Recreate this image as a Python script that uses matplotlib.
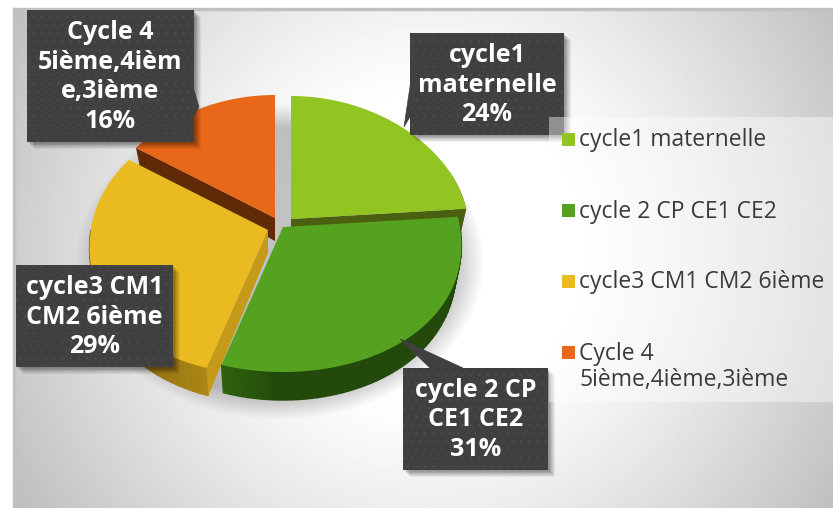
import numpy as np
import matplotlib
matplotlib.use("Agg")
from matplotlib import pyplot as plt
from matplotlib.patches import Rectangle, Polygon

# donnees du graphique
categories = ["cycle1 maternelle", "cycle 2 CP CE1 CE2", "cycle3 CM1 CM2 6ième", "Cycle 4\n5ième,4ième,3ième"]
values = [24, 31, 29, 16]
box_labels = ["cycle1\nmaternelle\n24%", "cycle 2 CP\nCE1 CE2\n31%", "cycle3 CM1\nCM2 6ième\n29%",
              "Cycle 4\n5ième,4ièm\ne,3ième\n16%"]
colors = ["#92C422", "#54A21F", "#EABB20", "#E96718"]
wall_colors = ["#4A6010", "#234A0A", "#C49A18", "#5F2A05"]

W, H = 833, 508
RX, RY_BACK, RY_FRONT = 177, 123, 145
centers = [(291, 219), (283, 227), (268, 230), (275, 218)]  # parts eclatees

plt.rcParams["hatch.linewidth"] = 0.3
fig = plt.figure(figsize=(W / 100, H / 100), dpi=100)
ax = fig.add_axes([0, 0, 1, 1])
ax.axis("off")

# fond degrade
yy, xx = np.mgrid[0:H, 0:W] + 0.5
d = np.hypot(xx - 430, yy - 250) / 420
bg = 255 - 65 * np.clip((d - 0.35) / 0.8, 0, 1) ** 1.2
ax.imshow(bg, cmap="gray", vmin=0, vmax=255, extent=(0, W, H, 0), zorder=0)
ax.add_patch(Rectangle((0, 0), 14, H, color="white", zorder=0.5))
ax.add_patch(Rectangle((0, 0), W, 8, color="white", zorder=0.5))
ax.add_patch(Rectangle((13, 8), 2, H, color="#C0C0C0", zorder=0.6))
ax.add_patch(Rectangle((13, 8), W, 2, color="#C0C0C0", zorder=0.6))

# ombre sous le camembert
ds = np.hypot((xx - 280) / 205, (yy - 262) / 158)
shadow = np.zeros((H, W, 4))
shadow[..., 3] = 0.24 * np.clip((1.0 - ds) / 0.15, 0, 1)
ax.imshow(shadow, extent=(0, W, H, 0), zorder=1)


def point(c, t, r=1.0, low=False):
    X, Y = r * np.sin(t), r * np.cos(t)
    if Y > 0:
        ym = RY_BACK * Y ** 0.9
    else:
        ym = RY_FRONT * Y
    x = RX * X * (1 - 0.13 * Y)
    y = -ym
    if low:
        x = x * 0.97
        y = y + 23 - 5 * Y
    return c[0] + x, c[1] + y


def arc(c, t0, t1, low=False):
    ts = np.linspace(t0, t1, 80)
    return [point(c, t, low=low) for t in ts]


def face(pts, color, z, lw=0.0):
    ax.add_patch(Polygon(pts, closed=True, facecolor=color, edgecolor=color, linewidth=lw, zorder=z))


def shade(color, f):
    rgb = np.array(matplotlib.colors.to_rgb(color))
    return tuple(np.clip(rgb * f, 0, 1))


edges = np.radians(np.cumsum([0] + values) * 3.6)

# part 1
c = centers[0]
p = point(c, edges[1])
face([c, p, point(c, edges[1], low=True), point(c, 0, r=0, low=True)], wall_colors[0], 2)
face(arc(c, np.radians(70), edges[1]) + arc(c, edges[1], np.radians(70), low=True), wall_colors[0], 2)
face([c] + arc(c, edges[0], edges[1]), colors[0], 2.1)

# part 4
c = centers[3]
face([c, point(c, edges[3]), point(c, edges[3], low=True), point(c, 0, r=0, low=True)], wall_colors[3], 3)
face([c] + arc(c, edges[3], edges[4]), colors[3], 3.1)

# part 3, paroi exterieure avec un degrade
c = centers[2]
ts = np.linspace(edges[2], np.radians(270), 30)
for i in range(len(ts) - 1):
    f = 0.62 + 0.25 * (1 - i / 28) ** 2
    face([point(c, ts[i]), point(c, ts[i + 1]), point(c, ts[i + 1], low=True), point(c, ts[i], low=True)],
         shade("#C49A18", f), 4, lw=1.0)
face([c, point(c, edges[2]), point(c, edges[2], low=True), point(c, 0, r=0, low=True)], wall_colors[2], 4.1)
face([c] + arc(c, edges[2], edges[3]), colors[2], 4.2)

# part 2
c = centers[1]
ts = np.linspace(edges[1], edges[2], 60)
for i in range(len(ts) - 1):
    f = 1 + 0.35 * np.clip((i - 50) / 9, 0, 1)
    face([point(c, ts[i]), point(c, ts[i + 1]), point(c, ts[i + 1], low=True), point(c, ts[i], low=True)],
         shade(wall_colors[1], f), 5, lw=1.0)
face([c] + arc(c, edges[1], edges[2]), colors[1], 5.1)

# etiquettes
boxes = [(410, 33, 154, 102), (403, 368, 145, 102), (16, 265, 157, 102), (27, 10, 167, 132)]
tails = [[(411, 80), (404, 127), (411, 115)], [(400, 339), (430, 368), (463, 368)], None,
         [(193, 87), (199, 107), (193, 117)]]
for lab, (x, y, w, h), tail in zip(box_labels, boxes, tails):
    for k in range(8):
        ax.add_patch(Rectangle((x + 1 + k * 0.8, y + 1 + k * 0.8), w, h, facecolor="black", alpha=0.06, linewidth=0, zorder=6))
    ax.add_patch(Rectangle((x, y), w, h, facecolor="#404040", edgecolor="#4F4F4F", hatch="..", linewidth=0, zorder=7))
    if tail:
        ax.add_patch(Polygon(tail, closed=True, facecolor="#404040", edgecolor="#404040", linewidth=0.5, zorder=7))
    ax.text(x + w / 2, y + h / 2 + 1, lab, color="white", fontsize=18, fontweight="bold", family="Open Sans",
            ha="center", va="center", linespacing=1.26, zorder=8)

# legende
ax.add_patch(Rectangle((549, 117), W - 549, 285, facecolor="white", alpha=0.42, linewidth=0, zorder=9))
ys = [139.5, 210.5, 281.5, 352.5]
for name, col, y in zip(categories, colors, ys):
    ax.add_patch(Rectangle((562, y - 6.5), 13, 13, facecolor=col, linewidth=0, zorder=10))
    ax.text(579.5, y - 11, name, color="#3A3A3A", fontsize=16.5, family="Open Sans",
            ha="left", va="top", linespacing=1.15, zorder=10)

ax.set_xlim(0, W)
ax.set_ylim(H, 0)
fig.savefig("out.png", dpi=100)
